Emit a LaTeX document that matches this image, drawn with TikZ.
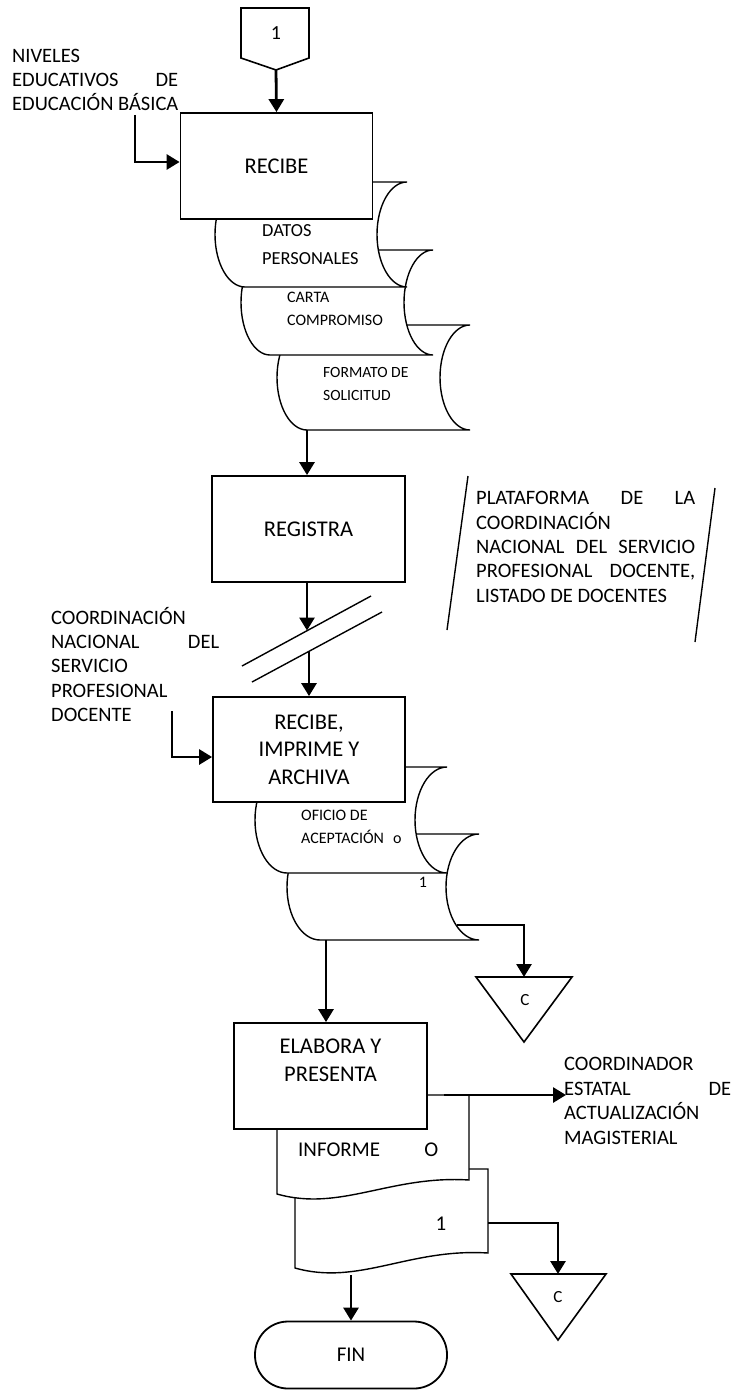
\documentclass[tikz,border=0pt]{standalone}
\usepackage{fontspec}
\setmainfont{Carlito}
\usetikzlibrary{arrows.meta}

% stored-data document: flat top and bottom, both sides bowed to the left
\newcommand\storedoc[5]{% xl, xr, top, bottom, depth
  \pgfmathsetmacro\sdmid{(#3+#4)/2}%
  \pgfmathsetmacro\sdk{0.5523*(#4-#3)/2}%
  \pgfmathsetmacro\sdkx{0.5523*#5}%
  \filldraw[docline] (#1,#3) -- (#2,#3)
    .. controls (#2-\sdkx,#3) and (#2-#5,\sdmid-\sdk) .. (#2-#5,\sdmid)
    .. controls (#2-#5,\sdmid+\sdk) and (#2-\sdkx,#4) .. (#2,#4)
    -- (#1,#4)
    .. controls (#1-\sdkx,#4) and (#1-#5,\sdmid+\sdk) .. (#1-#5,\sdmid)
    .. controls (#1-#5,\sdmid-\sdk) and (#1-\sdkx,#3) .. (#1,#3) -- cycle;}

% document with a wavy lower edge
\newcommand\wavedoc[5]{% xl, xr, top, bottom left, bottom right
  \pgfmathsetmacro\wdw{#2-#1}%
  \filldraw[docline] (#1,#3) -- (#2,#3) -- (#2,#5)
    .. controls (#1+0.59*\wdw,#5-5) and (#1+0.33*\wdw,#4+18) .. (#1,#4) -- cycle;}

\begin{document}
\begin{tikzpicture}[x=1pt,y=-1pt,
  docline/.style={line width=1.4pt,draw=black,fill=white},
  connline/.style={line width=1.6pt,draw=black,fill=white},
  procbox/.style={draw,line width=1.8pt,fill=white,inner sep=0pt,align=center,
    font=\fontsize{22.5}{27.5}\selectfont},
  lbl/.style={inner sep=0pt,anchor=base west,align=left,
    font=\fontsize{20.5}{24.4}\selectfont},
  doctxt/.style={inner sep=0pt,anchor=base west,align=left},
  flow/.style={line width=2.8pt,-{Triangle[length=13pt,width=15pt]}},
  thin/.style={line width=1.4pt},
  ]
\useasboundingbox (0,0) rectangle (733,1391);

% multi-line text nodes are placed by the baseline of their last line

% ---- off-page connector 1
\filldraw[connline] (241,8) -- (309,8) -- (309,58) -- (276,70) -- (241,58) -- cycle;
\node[inner sep=0pt,font=\fontsize{20}{24}\selectfont] (con1) at (276,33) {1};
\coordinate (con1tip) at (276,70);

% ---- documents received
\storedoc{307}{470}{325}{430}{30}
\storedoc{270}{433}{250}{355}{29}
\storedoc{245}{407}{182}{287}{30}
\node[doctxt,font=\fontsize{18.4}{27.3}\selectfont] (datos) at (262,264) {DATOS\\PERSONALES};
\node[doctxt,font=\fontsize{16}{23}\selectfont] (carta) at (287,325.3) {CARTA\\COMPROMISO};
\node[doctxt,font=\fontsize{15.6}{23.4}\selectfont] (formato) at (323,400.7) {FORMATO DE\\SOLICITUD};

\node[procbox,minimum width=192pt,minimum height=106pt] (recibe) at (276.5,166) {RECIBE};
\draw[flow] (con1tip) -- (recibe.north);

\node[lbl] (niveles) at (12,111) {NIVELES\\\makebox[166pt][s]{EDUCATIVOS DE}\\EDUCACIÓN BÁSICA};
\coordinate (nivsrc) at (135,115);
\draw[flow] (nivsrc) |- ([yshift=4pt]recibe.west);

% ---- registration
\coordinate (stackout) at (307,430);
\node[procbox,minimum width=193pt,minimum height=106pt] (registra) at (308.5,529) {REGISTRA};
\draw[flow] (stackout) -- (stackout |- registra.north);

% online data store
\draw[thin] (468,476) -- (447,630);
\draw[thin] (715,488) -- (695,642);
\node[lbl] (plataforma) at (476,602.3) {\makebox[219pt][s]{PLATAFORMA DE LA}\\COORDINACIÓN\\\makebox[219pt][s]{NACIONAL DEL SERVICIO}\\\makebox[219pt][s]{PROFESIONAL DOCENTE,}\\LISTADO DE DOCENTES};

% communication link
\draw[thin] (242,666) -- (371,596);
\draw[thin] (252,682) -- (382,612);
\coordinate (linkin) at (307,630.5);
\coordinate (linkout) at (309,651);
\draw[flow] (registra.south -| linkin) -- (linkin);

% ---- receive, print and file
\storedoc{320}{479}{834}{940}{33}
\storedoc{287}{447}{767}{873}{32}
\node[doctxt,font=\fontsize{16}{22.6}\selectfont] (oficio) at (301,843.3) {OFICIO DE\\ACEPTACIÓN\hspace{9pt}o};
\node[inner sep=0pt,font=\fontsize{16}{19}\selectfont] (copy1) at (423,882) {1};

\node[procbox,minimum width=192pt,minimum height=105pt] (recibe2) at (309,749.5) {RECIBE,\\IMPRIME Y\\ARCHIVA};
\draw[flow] (linkout) -- (recibe2.north);

\node[lbl] (cnspd) at (51,721.7) {COORDINACIÓN\\\makebox[168pt][s]{NACIONAL DEL}\\SERVICIO\\PROFESIONAL\\DOCENTE};
\coordinate (cnsrc) at (172,711);
\draw[flow] (cnsrc) |- ([yshift=-7.5pt]recibe2.west);

% file connector C (upper)
\filldraw[connline] (476,977) -- (572,977) -- (524,1042) -- cycle;
\node[inner sep=0pt,font=\fontsize{17}{20}\selectfont] (filec1) at (525,1000.5) {C};
\coordinate (tri1top) at (524,977);
\coordinate (docBout) at (457,925);
\draw[flow] (docBout) -| (tri1top);

% ---- prepare and present
\coordinate (docBdown) at (326,940);
\wavedoc{295}{488}{1169}{1268}{1253}
\wavedoc{277}{469}{1095}{1194}{1180}
\node[doctxt,font=\fontsize{21}{25}\selectfont] (informe) at (298,1156.7) {\makebox[140pt][s]{INFORME O}};
\node[inner sep=0pt,font=\fontsize{21}{25}\selectfont] (copy2) at (441,1224) {1};

\node[procbox,minimum width=193pt,minimum height=106pt] (elab) at (330.7,1076) {};
\node[inner sep=0pt,anchor=base,align=center,font=\fontsize{22.5}{27.7}\selectfont] (elabtxt) at (330.5,1081) {ELABORA Y\\PRESENTA};
\draw[flow] (docBdown) -- (docBdown |- elab.north);

\coordinate (coordtip) at (566,1095);
\draw[flow] ([yshift=-19pt,xshift=16pt]elab.east) -- (coordtip);
\node[lbl] (coord) at (564,1144) {COORDINADOR\\\makebox[167pt][s]{ESTATAL DE}\\ACTUALIZACIÓN\\MAGISTERIAL};

% file connector C (lower)
\filldraw[connline] (511,1274) -- (606,1274) -- (558,1340) -- cycle;
\node[inner sep=0pt,font=\fontsize{17}{20}\selectfont] (filec2) at (558,1297.5) {C};
\coordinate (tri2top) at (558,1274);
\coordinate (w1right) at (488,1223);
\draw[flow] (w1right) -| (tri2top);

% ---- end
\node[draw,line width=1.8pt,rounded corners=33pt,minimum width=192pt,minimum height=67pt,
  inner sep=0pt,font=\fontsize{21}{25}\selectfont] (fin) at (351,1355) {FIN};
\coordinate (w1down) at (351,1275);
\draw[flow] (w1down) -- (w1down |- fin.north);

\end{tikzpicture}
\end{document}
